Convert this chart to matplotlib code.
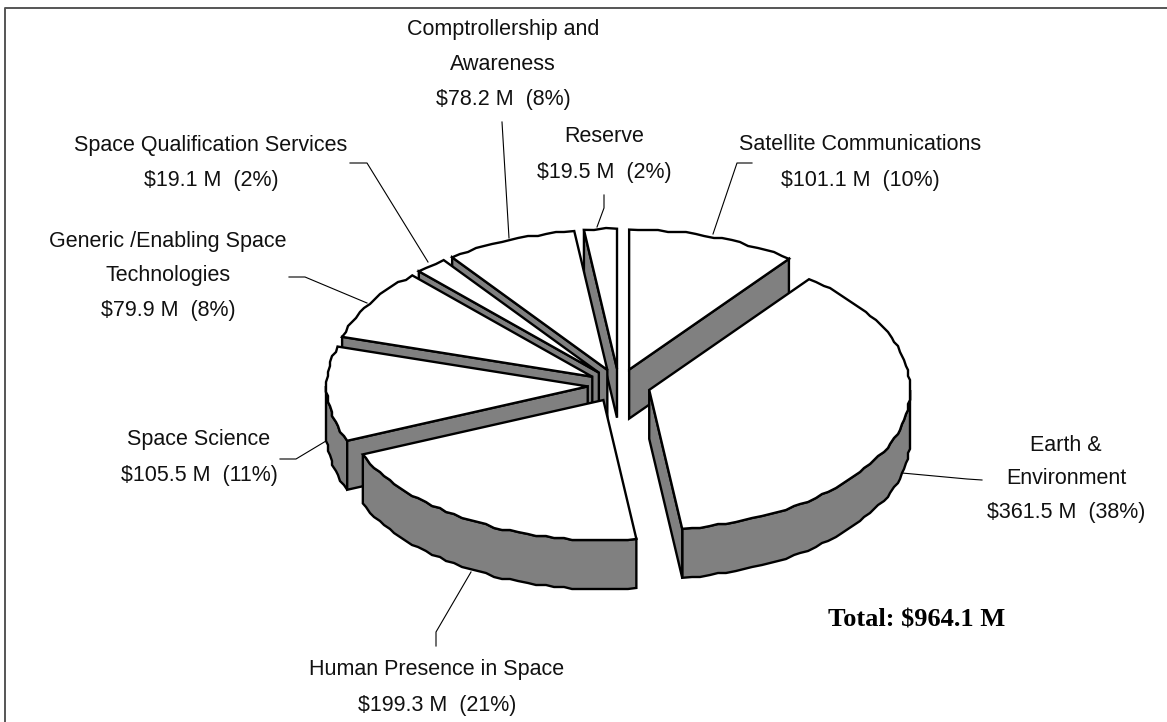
import matplotlib
matplotlib.use('Agg')
import matplotlib.pyplot as plt
import numpy as np

names = ["Satellite Communications", "Earth &\nEnvironment", "Human Presence in Space",
         "Space Science", "Generic /Enabling Space\nTechnologies",
         "Space Qualification Services", "Comptrollership and\nAwareness", "Reserve"]
values = [101.1, 361.5, 199.3, 105.5, 79.9, 19.1, 78.2, 19.5]
percents = [10, 38, 21, 11, 8, 2, 8, 2]
total = 964.1

# layout, pixels
cx, cy = 619, 385.5
rx, ry = 261, 140
depth = 49
explode = 0.12
grid = 2  # the outline in the original is a bit jagged
grey = '#808080'

# label centre x, first line centre y, line step
label_pos = [(860, 142, 36), (1066, 443, 33.5), (437, 667, 35.5), (199, 437, 36),
             (168, 239, 34.5), (211, 143, 35), (503, 27, 35), (604, 134, 36)]
leaders = [[(752, 163), (737, 163), (713, 234)],
           [(982, 480), (967, 479), (902, 473)],
           [(436, 646), (436, 632), (471, 572)],
           [(280, 459), (296, 459), (326, 441)],
           [(289, 277), (305, 277), (367, 303)],
           [(350, 163), (367, 163), (428, 262)],
           [(502, 122), (509, 238)],
           [(604, 195), (604, 208), (597, 227)]]
draw_order = [7, 6, 5, 4, 3, 0, 2, 1]

plt.rcParams['font.family'] = ['Liberation Sans', 'DejaVu Sans']

fig = plt.figure(figsize=(11.67, 7.22), dpi=100)
ax = fig.add_axes([0, 0, 1, 1])
ax.set_xlim(0, 1167)
ax.set_ylim(722, 0)
ax.axis('off')

# only the top and left sides of the frame are there
ax.plot([5, 5, 1167], [722, 8, 8], color='#555555', lw=1.4)


def arc(x0, y0, a, b):
    n = max(2, int(abs(b - a) / 2) + 1)
    deg = np.linspace(a, b, n)
    t = np.radians(deg)
    x = x0 + rx * np.sin(t)
    y = y0 - ry * np.cos(t)
    x[1:-1] = np.round(x[1:-1] / grid) * grid
    y[1:-1] = np.round(y[1:-1] / grid) * grid
    return deg, x, y


def poly(x, y, color):
    ax.fill(x, y, facecolor=color, edgecolor='black', lw=1.7, joinstyle='miter')


spans = np.array(values) / sum(values) * 360
starts = np.concatenate([[0], np.cumsum(spans)[:-1]])

for i in draw_order:
    a, b = starts[i], starts[i] + spans[i]
    mid = np.radians((a + b) / 2)
    x0 = cx + explode * rx * np.sin(mid)
    y0 = cy - explode * ry * np.cos(mid)
    deg, xs, ys = arc(x0, y0, a, b)

    # outer wall, front half only
    front = (deg >= 90) & (deg <= 270)
    if front.sum() > 1:
        wx, wy = xs[front], ys[front]
        poly(np.r_[wx, wx[::-1]], np.r_[wy, wy[::-1] + depth], grey)

    # cut faces
    if np.sin(np.radians(a)) < -1e-6:
        poly([x0, xs[0], xs[0], x0], [y0, ys[0], ys[0] + depth, y0 + depth], grey)
    if np.sin(np.radians(b)) > 1e-6:
        poly([x0, xs[-1], xs[-1], x0], [y0, ys[-1], ys[-1] + depth, y0 + depth], grey)

    poly(np.r_[x0, xs], np.r_[y0, ys], 'white')

for line in leaders:
    pts = np.array(line)
    ax.plot(pts[:, 0], pts[:, 1], color='black', lw=0.8)

for name, v, p, (x, y, step) in zip(names, values, percents, label_pos):
    lines = name.split('\n') + [f"${v} M  ({p}%)"]
    for k, s in enumerate(lines):
        ax.text(x, y + k * step, s, ha='center', va='center_baseline',
                fontsize=15.5, color='#111111')

ax.text(917, 618, f"Total: ${total} M", ha='center', va='center_baseline',
        family=['Liberation Serif', 'DejaVu Serif'], fontweight='bold', fontsize=19)

fig.savefig('out.png', dpi=100)
